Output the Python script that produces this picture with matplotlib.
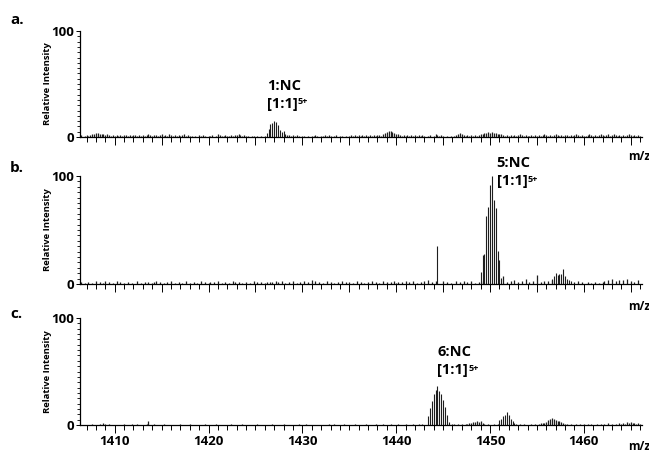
import numpy as np
import matplotlib
matplotlib.use("Agg")
import matplotlib.pyplot as plt
from matplotlib.ticker import MultipleLocator, FixedLocator

plt.rcParams['font.family'] = ['Open Sans', 'DejaVu Sans']
plt.rcParams['font.weight'] = 'bold'

# ---- data ----
# background noise: one digit = relative intensity (%) per 0.2 m/z bin from 1406.2
noise_start = 1406.2
noise_step = 0.2

noise_a = ("1201212334" "4333232121" "2121221212" "2121212321" "2212312132"
           "1212123121" "1010212101" "1201321121" "1212232121" "1011010101"
           "0000000000" "0221212101" "1010112101" "1212101201" "1010121212"
           "1212121212" "2134566543" "3212121212" "1212101201" "3212101010"
           "1234321212" "1212334454" "5443332121" "2121232121" "1212121232"
           "1212321212" "2121232121" "1232121232" "1231232121" "2123212121")

noise_b = ("0201020103" "0201302010" "3020102010" "0301020201" "2302010203"
           "0102010301" "0201030201" "2020301020" "1032020102" "0103020201"
           "2022032030" "1020301020" "3020403020" "1030201020" "3020201030"
           "2010203020" "1030202031" "2020302030" "1020304020" "3000302010"
           "0302030203" "0102030000" "0000007020" "3040203050" "2030802030"
           "3040000000" "0000203020" "0201020102" "3040503040" "4050302040")

noise_c = ("0000000100" "0102101000" "0000100010" "0100001400" "1000010000"
           "0000100001" "0000000100" "0001000000" "0100000100" "0000010000"
           "0001000001" "0000000100" "0100000000" "0001001000" "0100000100"
           "0001000010" "0010001000" "1000100010" "0101000000" "0000000101"
           "1010101122" "3343421010" "0101000000" "0001010100" "0101012223"
           "5676544321" "1010010101" "0101001010" "1020101021" "2132322121")

# isotope clusters
peaks_a_mz = [1426.2, 1426.4, 1426.6, 1426.8, 1427.0, 1427.2, 1427.4, 1427.6, 1427.8, 1428.0, 1428.2]
peaks_a_int = [4, 8, 12, 13, 15, 14, 11, 7, 5, 6, 3]

peaks_b_mz = [1444.4,
              1449.0, 1449.2, 1449.4, 1449.6, 1449.8, 1450.0, 1450.2, 1450.4, 1450.6, 1450.8, 1451.0, 1451.2,
              1456.6, 1456.8, 1457.0, 1457.2, 1457.4, 1457.6, 1457.8, 1458.0, 1458.2, 1458.4, 1458.6]
peaks_b_int = [35,
               11, 27, 28, 63, 71, 92, 100, 78, 70, 31, 22, 6,
               5, 7, 10, 8, 9, 9, 14, 7, 5, 4, 3]

peaks_c_mz = [1443.4, 1443.6, 1443.8, 1444.0, 1444.2, 1444.4, 1444.6, 1444.8, 1445.0, 1445.2, 1445.4, 1445.6,
              1451.0, 1451.2, 1451.4, 1451.6, 1451.8, 1452.0, 1452.2, 1452.4, 1452.6]
peaks_c_int = [8, 16, 22, 29, 33, 36, 32, 29, 23, 17, 9, 3,
               5, 6, 8, 9, 12, 9, 6, 4, 2]

panel_letters = ["a.", "b.", "c."]
labels_name = ["1:NC", "5:NC", "6:NC"]
label_pos = [(1426.2, 48, 31), (1450.7, 112, 95), (1444.4, 68, 51)]

x_min, x_max = 1406.3, 1466.2
x_ticks = [1410, 1420, 1430, 1440, 1450, 1460]

bar_color = "#1e1e1e"


def draw_panel(ax, noise, pk_mz, pk_int, show_xlabels):
    vals = [int(c) for c in noise]
    mz = noise_start + noise_step * np.arange(len(vals))
    ax.vlines(mz, 0, vals, color=bar_color, lw=0.9)
    ax.vlines(pk_mz, 0, pk_int, color=bar_color, lw=0.8)

    ax.set_xlim(x_min, x_max)
    ax.set_ylim(0, 100)
    for s in ["top", "right"]:
        ax.spines[s].set_visible(False)
    ax.spines["left"].set_linewidth(0.9)
    ax.spines["bottom"].set_linewidth(0.9)

    ax.xaxis.set_major_locator(MultipleLocator(5))
    ax.xaxis.set_minor_locator(MultipleLocator(1))
    ax.yaxis.set_major_locator(FixedLocator([0, 100]))
    ax.yaxis.set_minor_locator(MultipleLocator(5))
    ax.tick_params(axis="x", which="major", direction="out", length=5.8, width=0.7)
    ax.tick_params(axis="x", which="minor", direction="out", length=3.6, width=0.7)
    ax.tick_params(axis="y", which="major", direction="out", length=3.0, width=0.7, pad=1,
                   labelsize=9.5)
    ax.tick_params(axis="y", which="minor", direction="out", length=2.4, width=0.6)
    ax.set_yticklabels(["0", "100"], fontweight="bold")

    if show_xlabels:
        ax.set_xticks(x_ticks, [str(t) for t in x_ticks])
        ax.xaxis.set_minor_locator(MultipleLocator(1))
        ax.tick_params(axis="x", which="major", labelsize=9.5, pad=1.5)
        for t in ax.get_xticklabels():
            t.set_fontweight("bold")
    else:
        ax.set_xticklabels([])

    ax.text(-0.058, 0.5, "Relative Intensity", transform=ax.transAxes, rotation=90,
            ha="center", va="center", fontsize=6.8, fontweight="bold")


fig = plt.figure(figsize=(6.49, 4.62), dpi=100)
left = 80 / 649
width = 562 / 649
boxes = [(137, 106), (284, 108), (425, 107)]
noises = [noise_a, noise_b, noise_c]
peak_sets = [(peaks_a_mz, peaks_a_int), (peaks_b_mz, peaks_b_int), (peaks_c_mz, peaks_c_int)]
letter_y = [20, 168, 314]
mz_y = [156, 306, 446]

for i in range(3):
    base, h = boxes[i]
    ax = fig.add_axes([left, (462 - base) / 462, width, h / 462])
    draw_panel(ax, noises[i], peak_sets[i][0], peak_sets[i][1], i == 2)
    lx, ly1, ly2 = label_pos[i]
    ax.text(lx, ly1, labels_name[i], ha="left", va="center", fontsize=10.5,
            fontweight="bold", clip_on=False)
    br = ax.text(lx, ly2, "[1:1]", ha="left", va="center", fontsize=10.5,
                 fontweight="bold", clip_on=False)
    ax.annotate("5+", xy=(1.0, 0.98), xycoords=br, xytext=(0.3, 0), textcoords="offset points",
                ha="left", va="top", fontsize=6.5, fontweight="bold", annotation_clip=False)
    fig.text(10 / 649, 1 - letter_y[i] / 462, panel_letters[i], ha="left", va="center",
             fontsize=11, fontweight="bold")
    fig.text(628 / 649, 1 - mz_y[i] / 462, "m/z", ha="left", va="center",
             fontsize=8.5, fontweight="bold")

fig.savefig("out.png", dpi=100)
